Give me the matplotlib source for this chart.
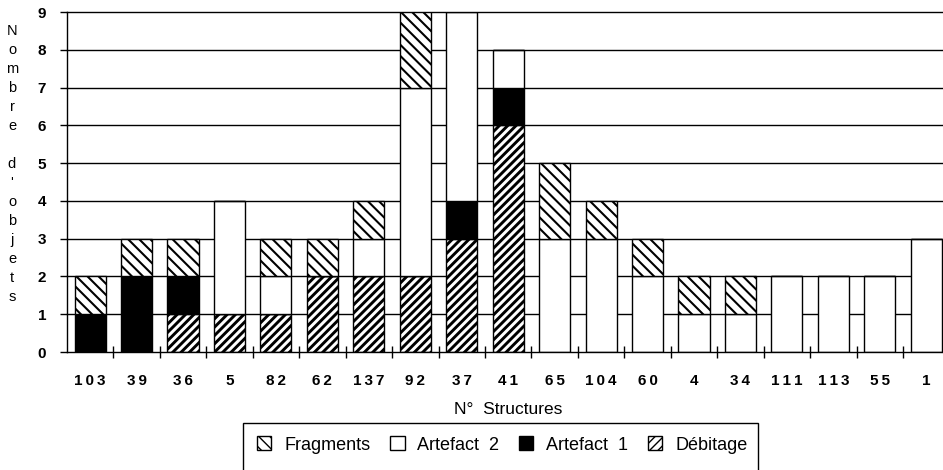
import matplotlib
matplotlib.use("Agg")
import matplotlib.pyplot as plt
from matplotlib.patches import Patch, Rectangle
import numpy as np

plt.rcParams['font.family'] = ['Liberation Sans', 'DejaVu Sans']
plt.rcParams['hatch.color'] = 'black'

# Structures (x categories)
structures = ['103', '39', '36', '5', '82', '62', '137', '92', '37', '41',
              '65', '104', '60', '4', '34', '111', '113', '55', '1']

# Object counts per structure, stacked bottom to top
debitage   = [0, 0, 1, 1, 1, 2, 2, 2, 3, 6, 0, 0, 0, 0, 0, 0, 0, 0, 0]
artefact1  = [1, 2, 1, 0, 0, 0, 0, 0, 1, 1, 0, 0, 0, 0, 0, 0, 0, 0, 0]
artefact2  = [0, 0, 0, 3, 1, 0, 1, 5, 5, 1, 3, 3, 2, 1, 1, 2, 2, 2, 3]
fragments  = [1, 1, 1, 0, 1, 1, 1, 2, 0, 0, 2, 1, 1, 1, 1, 0, 0, 0, 0]

HATCH_FRAG = '\\\\\\'
HATCH_DEB = '////'
LW_FRAG = 1.5
LW_DEB = 2.1

series = [
    ('Débitage',    debitage,  dict(facecolor='white', hatch=HATCH_DEB), LW_DEB),
    ('Artefact  1', artefact1, dict(facecolor='black', hatch=None), 1.0),
    ('Artefact  2', artefact2, dict(facecolor='white', hatch=None), 1.0),
    ('Fragments',   fragments, dict(facecolor='white', hatch=HATCH_FRAG), LW_FRAG),
]

W, H = 943, 470
fig = plt.figure(figsize=(W / 100, H / 100), dpi=100)
ax = fig.add_axes([66.9 / W, (H - 352) / H, 882.6 / W, 340 / H])

x = np.arange(len(structures))
bar_w = 0.67

# horizontal grid lines behind the bars
for lvl in range(1, 10):
    ax.axhline(lvl, color='black', lw=1.0, zorder=1, clip_on=False)

def set_hatch_lw(patches, lw):
    for p in patches:
        if hasattr(p, 'set_hatch_linewidth'):
            p.set_hatch_linewidth(lw)

bottom = np.zeros(len(structures))
for name, vals, style, hlw in series:
    vals = np.array(vals, dtype=float)
    with plt.rc_context({'hatch.linewidth': hlw}):
        bars = ax.bar(x, vals, bar_w, bottom=bottom, edgecolor='black',
                      linewidth=1.0, zorder=2, **style)
    set_hatch_lw(bars, hlw)
    bottom += vals

ax.set_xlim(-0.5, len(structures) - 0.5)
ax.set_ylim(0, 9)

for s in ['top', 'right']:
    ax.spines[s].set_visible(False)
for s in ['left', 'bottom']:
    ax.spines[s].set_linewidth(1.0)
    ax.spines[s].set_zorder(3)

ax.set_yticks(range(0, 10))
ax.set_yticklabels([str(v) for v in range(0, 10)], fontsize=11, fontweight='bold')
ax.tick_params(axis='y', direction='out', length=5, width=1.0, pad=10)

ax.set_xticks(x)
ax.set_xticklabels(['\u2009'.join(s) for s in structures], fontsize=11,
                   fontweight='bold')
ax.tick_params(axis='x', which='major', length=0, pad=16)
ax.set_xticks(np.arange(0.5, len(structures) - 0.5, 1.0), minor=True)
ax.tick_params(axis='x', which='minor', direction='inout', length=8, width=1.0)

# vertical stacked axis title
lines = ['N', 'o', 'm', 'b', 'r', 'e', '', 'd', "'", 'o', 'b', 'j', 'e', 't', 's']
fig.text(12 / W, 1 - 164 / H, '\n'.join(lines), ha='center', va='center',
         fontsize=10.5, linespacing=1.46)

fig.text(508 / W, 1 - 410 / H, 'N°  Structures', ha='center', va='center',
         fontsize=12.5)

# legend
handles = []
for hatch, fc, hlw in [(HATCH_FRAG, 'white', LW_FRAG), (None, 'white', 1.0),
                       (None, 'black', 1.0), (HATCH_DEB, 'white', LW_DEB)]:
    with plt.rc_context({'hatch.linewidth': hlw}):
        h = Patch(facecolor=fc, edgecolor='black', hatch=hatch, lw=1.0)
    set_hatch_lw([h], hlw)
    handles.append(h)
labels = ['Fragments', 'Artefact  2', 'Artefact  1', 'Débitage']
fig.legend(handles, labels, ncol=4, loc='center left',
           bbox_to_anchor=(257 / W, 1 - 445 / H), frameon=False, fontsize=13,
           handlelength=0.8, handleheight=0.8, handletextpad=0.7,
           columnspacing=1.1, borderpad=0, borderaxespad=0)
fig.add_artist(Rectangle((243 / W, -0.05), (758 - 243) / W, 0.05 + (H - 423) / H,
                         transform=fig.transFigure, facecolor='none',
                         edgecolor='black', lw=1.0))

fig.savefig('out.png', dpi=100)
